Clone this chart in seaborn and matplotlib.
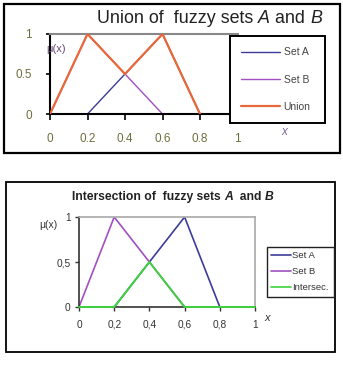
import numpy as np
import pandas as pd
import matplotlib
matplotlib.use("Agg")
import matplotlib.pyplot as plt
from matplotlib.patches import Rectangle
from matplotlib.lines import Line2D
import seaborn as sns

# ---- data ----
x_vals = [0, 0.2, 0.4, 0.6, 0.8, 1.0]
set_a_top = [np.nan, 0, 0.5, 1, 0, np.nan]
set_b_top = [0, 1, 0.5, 0, np.nan, np.nan]
union_vals = [0, 1, 0.5, 1, 0, np.nan]
set_a_bot = [np.nan, 0, 0.5, 1, 0, np.nan]
set_b_bot = [0, 1, 0.5, 0, np.nan, np.nan]
intersec_vals = [0, 0, 0.5, 0, 0, 0]
x_ticks = [0, 0.2, 0.4, 0.6, 0.8, 1]
x_labels_top = ["0", "0.2", "0.4", "0.6", "0.8", "1"]
y_ticks = [0, 0.5, 1]
y_labels_top = ["0", "0.5", "1"]
x_labels_bot = ["0", "0,2", "0,4", "0,6", "0,8", "1"]
y_labels_bot = ["0", "0,5", "1"]

sns.set_theme(style="white")
plt.rcParams['font.family'] = ['Liberation Sans', 'DejaVu Sans']

W, H = 343, 365
fig = plt.figure(figsize=(W / 100, H / 100), dpi=100)
fig.patch.set_facecolor("white")

def fx(px):
    return px / W

def fy(py):
    return 1 - py / H

def box(l, t, r, b):
    return [fx(l), fy(b), fx(r) - fx(l), fy(t) - fy(b)]

C_A = "#3c3c98"
C_B = "#a050c0"
C_U = "#e8683a"
C_I = "#3ed23e"

# ---------- top panel ----------
fig.patches.append(Rectangle((fx(4), fy(153)), fx(340) - fx(4), fy(4) - fy(153),
                             transform=fig.transFigure, fill=False, ec="black", lw=1.6))
ax1 = fig.add_axes(box(50, 34, 237.5, 114))
ax1.set_facecolor("white")
df_top = pd.DataFrame({"x": x_vals, "a": set_a_top, "b": set_b_top, "u": union_vals})
sns.lineplot(data=df_top, x="x", y="a", ax=ax1, color=C_A, lw=1.0, estimator=None, errorbar=None, zorder=2)
sns.lineplot(data=df_top, x="x", y="b", ax=ax1, color=C_B, lw=1.0, estimator=None, errorbar=None, zorder=2)
sns.lineplot(data=df_top, x="x", y="u", ax=ax1, color=C_U, lw=1.6, estimator=None, errorbar=None, zorder=3)
ax1.set_xlim(0, 1)
ax1.set_ylim(0, 1)
ax1.set_xlabel("")
ax1.set_ylabel("")
ax1.set_xticks(x_ticks)
ax1.set_xticklabels(x_labels_top)
ax1.set_yticks(y_ticks)
ax1.set_yticklabels(y_labels_top)
tick_col = "#6e6e3c"
ax1.tick_params(axis="x", direction="out", length=4, width=1.2, color="black", pad=10,
                labelsize=8.5, labelcolor=tick_col, bottom=True)
ax1.tick_params(axis="y", direction="out", length=3, width=1.2, color="black", pad=10,
                labelsize=8.5, labelcolor=tick_col, left=True)
for s in ["left", "bottom"]:
    ax1.spines[s].set_color("black")
    ax1.spines[s].set_linewidth(1.5)
ax1.spines["top"].set_color("#888888")
ax1.spines["top"].set_linewidth(1.5)
ax1.spines["right"].set_visible(False)

t1 = fig.text(fx(97), fy(23), "Union of  fuzzy sets ", ha="left", va="baseline",
              fontsize=12.9, color="#222222")
p = t1
for txt, st in [("A", "italic"), (" and ", "normal"), ("B", "italic")]:
    p = ax1.annotate(txt, xy=(1, 0), xycoords=p, va="bottom", ha="left",
                     fontsize=12.9, color="#222222", fontstyle=st, annotation_clip=False)

fig.text(fx(56), fy(49), "μ(x)", ha="center", va="center", fontsize=8, color="#6a4a7a")
fig.text(fx(284), fy(132), "x", ha="center", va="center", fontsize=8.5, color="#7a6a9a", style="italic")

h_top = [Line2D([], [], color=C_A, lw=1.0), Line2D([], [], color=C_B, lw=1.0), Line2D([], [], color=C_U, lw=1.6)]
leg1 = fig.legend(h_top, ["Set A", "Set B", "Union"], loc="upper left",
                  bbox_to_anchor=(fx(230), fy(120), fx(325) - fx(230), fy(36) - fy(120)),
                  mode="expand", borderaxespad=0, fontsize=7.5, labelspacing=1.65,
                  handlelength=3.7, handletextpad=0.35, borderpad=1.1, frameon=True,
                  fancybox=False, edgecolor="black", framealpha=1)
leg1.get_frame().set_linewidth(1.4)
for t in leg1.get_texts():
    t.set_color("#444444")

# ---------- bottom panel ----------
fig.patches.append(Rectangle((fx(6), fy(352)), fx(335) - fx(6), fy(182) - fy(352),
                             transform=fig.transFigure, fill=False, ec="black", lw=1.3))
ax2 = fig.add_axes(box(79, 217, 255, 307))
ax2.set_facecolor("white")
df_bot = pd.DataFrame({"x": x_vals, "a": set_a_bot, "b": set_b_bot, "i": intersec_vals})
sns.lineplot(data=df_bot, x="x", y="a", ax=ax2, color=C_A, lw=1.2, estimator=None, errorbar=None, zorder=2)
sns.lineplot(data=df_bot, x="x", y="b", ax=ax2, color=C_B, lw=1.2, estimator=None, errorbar=None, zorder=2)
sns.lineplot(data=df_bot, x="x", y="i", ax=ax2, color=C_I, lw=1.4, estimator=None, errorbar=None, zorder=3,
             clip_on=False)
ax2.set_xlim(0, 1)
ax2.set_ylim(0, 1)
ax2.set_xlabel("")
ax2.set_ylabel("")
ax2.set_xticks(x_ticks)
ax2.set_xticklabels(x_labels_bot)
ax2.set_yticks(y_ticks)
ax2.set_yticklabels(y_labels_bot)
ax2.tick_params(axis="x", direction="out", length=3, width=1.0, color="#333333", pad=6,
                labelsize=7.3, labelcolor="#333333", bottom=True)
ax2.tick_params(axis="y", direction="out", length=3, width=1.0, color="#333333", pad=3,
                labelsize=7.3, labelcolor="#333333", left=True)
for s in ["left", "bottom"]:
    ax2.spines[s].set_color("#333333")
    ax2.spines[s].set_linewidth(1.2)
for s in ["top", "right"]:
    ax2.spines[s].set_color("#a8a8a8")
    ax2.spines[s].set_linewidth(1.2)

t2 = fig.text(fx(72), fy(200), "Intersection of  fuzzy sets ", ha="left", va="baseline",
              fontsize=8.7, color="#222222", fontweight="bold")
p = t2
for txt, st in [("A", "italic"), ("  and ", "normal"), ("B", "italic")]:
    p = ax2.annotate(txt, xy=(1, 0), xycoords=p, va="bottom", ha="left",
                     fontsize=8.7, color="#222222", fontstyle=st, fontweight="bold",
                     annotation_clip=False)

fig.text(fx(48), fy(225), "μ(x)", ha="center", va="center", fontsize=7.5, color="#333333")
fig.text(fx(267), fy(318), "x", ha="center", va="center", fontsize=8, color="#333333", style="italic")

h_bot = [Line2D([], [], color=C_A, lw=1.2), Line2D([], [], color=C_B, lw=1.2), Line2D([], [], color=C_I, lw=1.2)]
leg2 = fig.legend(h_bot, ["Set A", "Set B", "Intersec."], loc="upper left",
                  bbox_to_anchor=(fx(267), fy(294), fx(334) - fx(267), fy(247) - fy(294)),
                  mode="expand", borderaxespad=0, fontsize=6.8, labelspacing=0.75,
                  handlelength=2.1, handletextpad=0.15, borderpad=0.45, frameon=True,
                  fancybox=False, edgecolor="#222222", framealpha=1)
leg2.get_frame().set_linewidth(1.0)
for t in leg2.get_texts():
    t.set_color("#333333")

fig.savefig("out.png", dpi=100, facecolor="white")
